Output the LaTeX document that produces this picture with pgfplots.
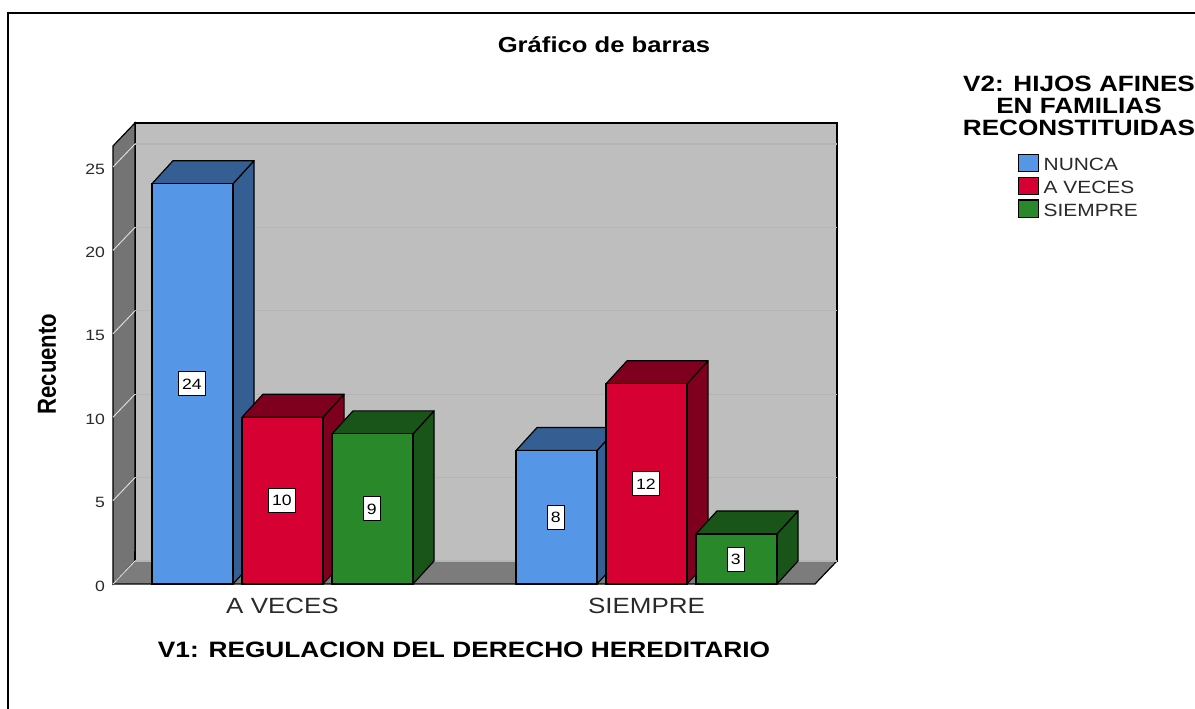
\documentclass[border=0pt]{standalone}
\usepackage{pgfplots}
\pgfplotsset{compat=1.18}
\usepackage{fontspec}
\setmainfont[FakeStretch=1.18]{Liberation Sans}
\newfontfamily\plainsans{Liberation Sans}
\definecolor{cblue}{HTML}{5596E6}
\definecolor{dblue}{HTML}{355F92}
\definecolor{cred}{HTML}{D60032}
\definecolor{dred}{HTML}{7F001E}
\definecolor{cgreen}{HTML}{28882A}
\definecolor{dgreen}{HTML}{195418}
\definecolor{wallc}{HTML}{BEBEBE}
\definecolor{sidec}{HTML}{747474}
\definecolor{floorc}{HTML}{7C7C7C}
\definecolor{gridc}{HTML}{B5B5B5}
\definecolor{txt}{HTML}{2A2A2A}
% #1 centre of bar, #2 value, #3 dark colour
\newcommand{\sidetop}[3]{%
 \addplot[forget plot,fill=#3,draw=black,line width=0.9pt,line join=round] coordinates {(#1+0.11126,0)(#1+0.16895,1.379)(#1+0.16895,#2+1.379)(#1+0.11126,#2)} -- cycle;
 \addplot[forget plot,fill=#3,draw=black,line width=0.9pt,line join=round] coordinates {(#1-0.11126,#2)(#1-0.05357,#2+1.379)(#1+0.16895,#2+1.379)(#1+0.11126,#2)} -- cycle;
}
\newcommand{\gridl}[1]{%
 \addplot[forget plot,draw=gridc,line width=0.9pt] coordinates {(-0.4053,#1+1.379)(1.5233,#1+1.379)};
 \addplot[forget plot,draw=white!75!gray,line width=0.7pt] coordinates {(-0.4657,#1)(-0.4053,#1+1.379)};
}
\begin{document}
\begin{tikzpicture}
\path[use as bounding box,fill=white] (0,0) rectangle (896.25pt,531.75pt);
\draw[black,line width=1.6pt] (6pt,0pt) -- (6pt,522pt) -- (896.25pt,522pt);
\begin{axis}[
 at={(84.75pt,93.75pt)},anchor=south west,scale only axis,
 width=526.5pt,height=328.5pt,
 xmin=-0.4657,xmax=1.4629,ymin=0,ymax=26.26,
 clip=false,
 axis line style={draw=none},
 tick style={draw=none},
 xtick={0,1},xticklabels={A VECES,SIEMPRE},
 ytick={0,5,10,15,20,25},
 /pgf/number format/assume math mode=true,
 tick label style={text=txt},
 xticklabel style={font=\fontsize{16.5pt}{18pt}\selectfont,yshift=-7pt},
 yticklabel style={font=\fontsize{11.2pt}{13pt}\selectfont,xshift=-2.5pt,yshift=-1.5pt},
 every axis title shift=0pt,
 title={\textbf{Gráfico de barras}},
 title style={at={(axis description cs:0.6994,1.2306)},anchor=center,font=\fontsize{16.3pt}{18pt}\selectfont},
 xlabel={\textbf{V1: REGULACION DEL DERECHO HEREDITARIO}},
 xlabel style={at={(axis description cs:0.5,-0.1507)},anchor=center,font=\fontsize{16.7pt}{18pt}\selectfont},
 ylabel={\scalebox{1}[1.18]{\plainsans\bfseries Recuento}},
 ylabel style={at={(axis description cs:-0.094,0.502)},anchor=center,font=\fontsize{16.6pt}{18pt}\selectfont,rotate=0},
 legend style={at={(axis description cs:1.2885,0.982)},anchor=north west,draw=none,fill=none,inner sep=0pt,outer sep=0pt,
   font=\fontsize{13.3pt}{15pt}\selectfont,text=txt,row sep=0.8pt,
   /tikz/every even column/.append style={column sep=0pt}},
 legend cell align=left,
 legend image code/.code={\draw[#1,draw=black,line width=0.9pt] (0pt,-4.6pt) rectangle (15pt,8.4pt);},
]
% walls
\addplot[forget plot,fill=wallc,draw=black,line width=0.9pt] coordinates {(-0.4053,1.379)(-0.4053,27.64)(1.5233,27.64)(1.5233,1.379)} -- cycle;
\addplot[forget plot,fill=sidec,draw=black,line width=0.9pt] coordinates {(-0.4657,0)(-0.4053,1.379)(-0.4053,27.64)(-0.4657,26.26)} -- cycle;
\addplot[forget plot,fill=floorc,draw=none] coordinates {(-0.4657,0)(1.4629,0)(1.5233,1.379)(-0.4053,1.379)} -- cycle;
\addplot[forget plot,draw=black,line width=0.9pt] coordinates {(-0.4657,0)(1.4629,0)(1.5233,1.379)(1.5233,3)};
\addplot[forget plot,draw=black,line width=0.9pt] coordinates {(-0.4053,1.379)(-0.4053,2)};
\gridl{0}\gridl{5}\gridl{10}\gridl{15}\gridl{20}\gridl{25}
% NUNCA
\sidetop{-0.24725}{24}{dblue}
\sidetop{0.75275}{8}{dblue}
\addplot[ybar,bar width=60.75pt,bar shift=-67.5pt,fill=cblue,draw=black,line width=0.9pt] coordinates {(0,24)(1,8)};
\addlegendentry{\hspace{1.7pt}NUNCA}
% A VECES
\sidetop{0}{10}{dred}
\sidetop{1}{12}{dred}
\addplot[ybar,bar width=60.75pt,bar shift=0pt,fill=cred,draw=black,line width=0.9pt] coordinates {(0,10)(1,12)};
\addlegendentry{\hspace{1.7pt}A VECES}
% SIEMPRE
\sidetop{0.24725}{9}{dgreen}
\sidetop{1.24725}{3}{dgreen}
\addplot[ybar,bar width=60.75pt,bar shift=67.5pt,fill=cgreen,draw=black,line width=0.9pt] coordinates {(0,9)(1,3)};
\addlegendentry{\hspace{1.7pt}SIEMPRE}
% value labels at mid height
\addplot[forget plot,only marks,mark=none,point meta=explicit symbolic,
 nodes near coords,
 every node near coord/.style={anchor=center,xshift=-0.5pt,fill=white,draw=black,line width=0.7pt,inner sep=0pt,minimum height=18pt,
   text=black,font=\fontsize{11.2pt}{13pt}\selectfont,text depth=0pt,minimum width=13pt,inner xsep=2.5pt}]
 coordinates {(-0.24725,12)[24] (0,5)[10] (0.24725,4.5)[9] (0.75275,4)[8] (1,6)[12] (1.24725,1.5)[3]};
\end{axis}
\node[align=center,font=\fontsize{16.6pt}{16.5pt}\selectfont\bfseries,anchor=center,inner sep=0pt] at (809.25pt,452pt) {V2: HIJOS AFINES\\EN FAMILIAS\\RECONSTITUIDAS};
\end{tikzpicture}
\end{document}
